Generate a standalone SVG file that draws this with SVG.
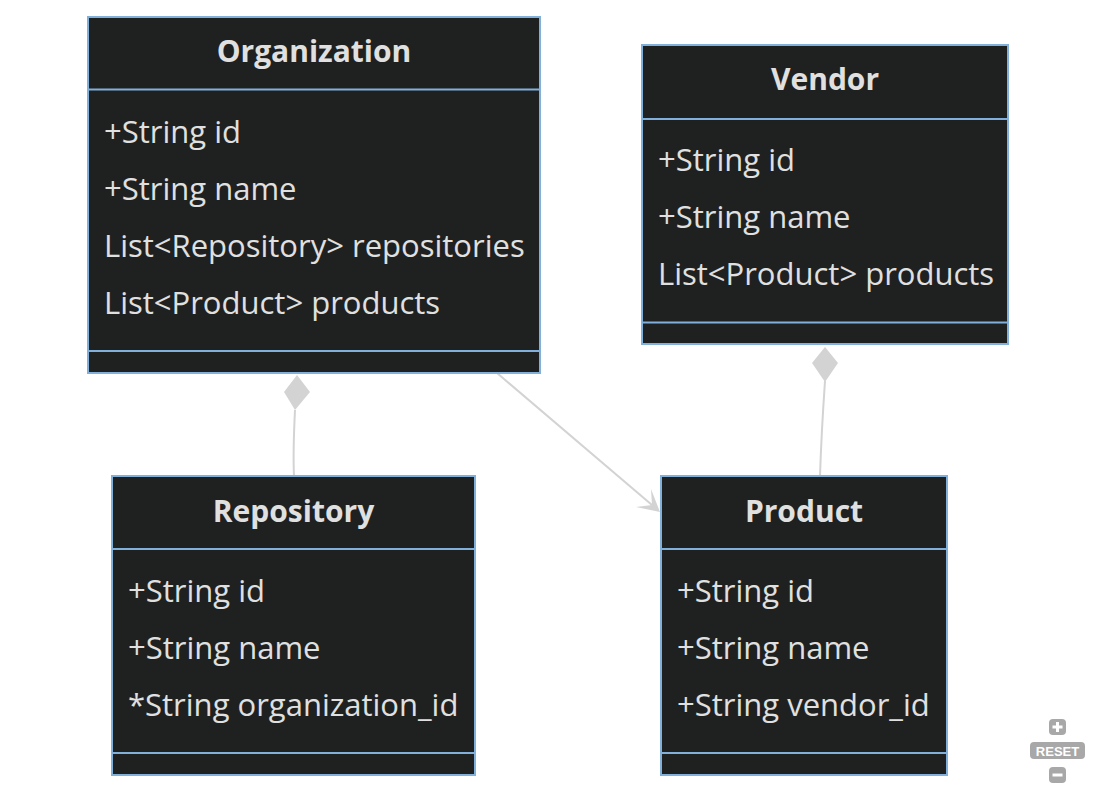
<svg xmlns="http://www.w3.org/2000/svg" width="1096" height="792" viewBox="0 0 1096 792">
<style>
.box{fill:#1f2020;stroke:#81b1db;stroke-width:2}
.div{stroke:#81b1db;stroke-width:2}
.title{font-family:"Open Sans","Noto Sans",sans-serif;font-size:30px;font-weight:bold;fill:#e0e0e0;text-anchor:middle}
.attr{font-family:"Open Sans","Noto Sans",sans-serif;font-size:31px;fill:#e0e0e0}
.edge{fill:none;stroke:#d3d3d3;stroke-width:2}
.head{fill:#d3d3d3}
.ctl{fill:#a8a8a8}
</style>
<rect width="1096" height="792" fill="#ffffff"/>
<g id="connectors">
<path class="edge" d="M295,410 C294,430 293,455 294,476"/>
<polygon class="head" points="297,375 284,392 295,410 310,392"/>
<path class="edge" d="M825,381 C823,410 821,445 820,476"/>
<polygon class="head" points="825,347 812,363 825,382 838,363"/>
<path class="edge" d="M497,373 L652,505"/>
<polygon class="head" points="660,512 636,507 652,505 651,489"/>
</g>
<g id="Organization">
<rect class="box" x="88" y="17" width="452" height="356"/>
<line class="div" x1="88" y1="89.5" x2="540" y2="89.5"/>
<line class="div" x1="88" y1="351" x2="540" y2="351"/>
<text class="title" x="314" y="62">Organization</text>
<text class="attr" x="104" y="143">+String id</text>
<text class="attr" x="104" y="200">+String name</text>
<text class="attr" x="104" y="257">List&lt;Repository&gt; repositories</text>
<text class="attr" x="104" y="314">List&lt;Product&gt; products</text>
</g>
<g id="Vendor">
<rect class="box" x="642" y="45" width="366" height="299"/>
<line class="div" x1="642" y1="119" x2="1008" y2="119"/>
<line class="div" x1="642" y1="322.5" x2="1008" y2="322.5"/>
<text class="title" x="825" y="90">Vendor</text>
<text class="attr" x="658" y="171">+String id</text>
<text class="attr" x="658" y="228">+String name</text>
<text class="attr" x="658" y="285">List&lt;Product&gt; products</text>
</g>
<g id="Repository">
<rect class="box" x="112" y="476" width="363" height="299"/>
<line class="div" x1="112" y1="549" x2="475" y2="549"/>
<line class="div" x1="112" y1="753" x2="475" y2="753"/>
<text class="title" x="293.5" y="522">Repository</text>
<text class="attr" x="128" y="602">+String id</text>
<text class="attr" x="128" y="659">+String name</text>
<text class="attr" x="128" y="716">*String organization_id</text>
</g>
<g id="Product">
<rect class="box" x="661" y="476" width="286" height="299"/>
<line class="div" x1="661" y1="549" x2="947" y2="549"/>
<line class="div" x1="661" y1="753" x2="947" y2="753"/>
<text class="title" x="804" y="522">Product</text>
<text class="attr" x="677" y="602">+String id</text>
<text class="attr" x="677" y="659">+String name</text>
<text class="attr" x="677" y="716">+String vendor_id</text>
</g>
<g id="controls">
<rect class="ctl" x="1049" y="719" width="17" height="16" rx="4"/>
<path d="M1057.5,722 V732 M1052.5,727 H1062.5" stroke="#ffffff" stroke-width="3"/>
<rect class="ctl" x="1030" y="742" width="55" height="17" rx="4"/>
<text x="1057.5" y="755.5" font-family="Liberation Sans,Arial,sans-serif" font-size="13" font-weight="bold" fill="#ffffff" text-anchor="middle">RESET</text>
<rect class="ctl" x="1049" y="767" width="17" height="16" rx="4"/>
<path d="M1052.5,775 H1062.5" stroke="#ffffff" stroke-width="3"/>
</g>
</svg>
